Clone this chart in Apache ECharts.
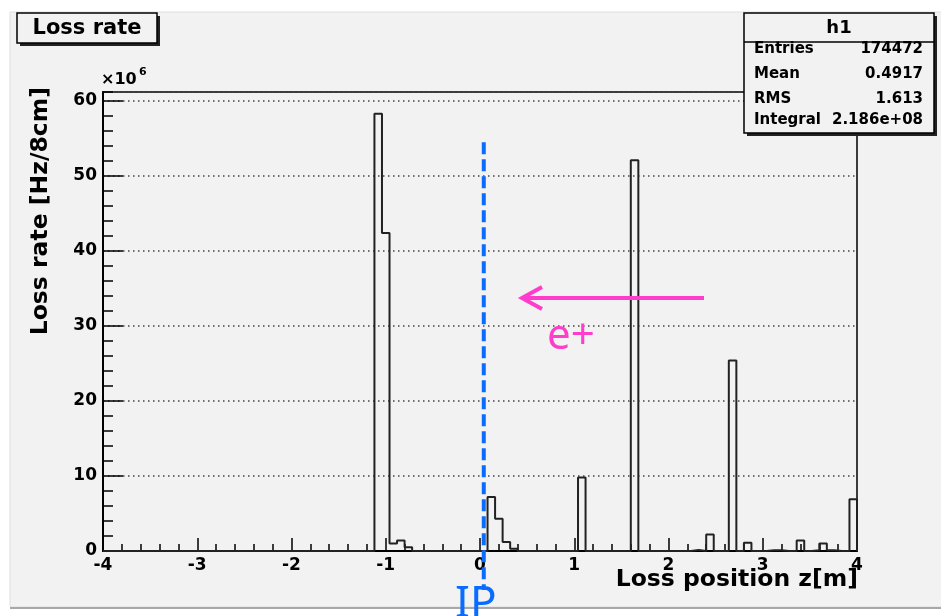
<!DOCTYPE html>
<html>
<head>
<meta charset="utf-8">
<script src="https://cdn.jsdelivr.net/npm/echarts@6/dist/echarts.min.js"></script>
<style>
	html, body { margin: 0; padding: 0; background: #fff; }
	#LossChart { width: 941px; height: 616px; }
</style>
</head>
<body>
<div id="LossChart"></div>
<script>
// histogram h1: 100 bins of 8 cm from -4 m to 4 m, values in 1e6 Hz
let binLow = -4;
let binWidth = 0.08;
let lossRate = [
	0, 0, 0, 0, 0, 0, 0, 0, 0, 0,
	0, 0, 0, 0, 0, 0, 0, 0, 0, 0,
	0, 0, 0, 0, 0, 0, 0, 0, 0, 0,
	0, 0, 0, 0, 0, 0, 58.3, 42.4, 1.0, 1.4,
	0.5, 0, 0, 0, 0, 0, 0, 0, 0, 0,
	0, 7.2, 4.3, 1.2, 0.3, 0, 0, 0, 0, 0,
	0, 0, 0, 9.8, 0, 0, 0, 0, 0, 0,
	52.1, 0, 0, 0, 0, 0, 0, 0, 0.15, 0,
	2.2, 0, 0, 25.4, 0, 1.1, 0, 0, 0.1, 0.1,
	0, 0, 1.4, 0, 0.1, 1.0, 0.1, 0, 0, 6.9,
];
let xTicks = [-4, -3, -2, -1, 0, 1, 2, 3, 4];
let yTicks = [0, 10, 20, 30, 40, 50, 60];
let yMax = 61.2;
let statNames = ["Entries", "Mean", "RMS", "Integral"];
let statValues = ["174472", "0.4917", "1.613", "2.186e+08"];

let bg = "#f2f2f2";
let rootFont = "DejaVu Sans";

let stepData = lossRate.map((v, i) => [+(binLow + i * binWidth).toFixed(2), v]);
stepData.push([xTicks[xTicks.length - 1], 0]);

let echarts = window.echarts;
let myChart = echarts.init(document.getElementById("LossChart"));

let labelStyle = {
	color: "#000",
	fontFamily: rootFont,
	fontWeight: "bold",
	fontSize: 17,
};

let option = {
	animation: false,
	backgroundColor: "#fff",
	grid: {
		left: 103,
		right: 84,
		top: 92,
		bottom: 65,
		show: true,
		backgroundColor: bg,
		borderColor: "#000",
		borderWidth: 1.5,
	},
	xAxis: {
		type: "value",
		min: xTicks[0],
		max: xTicks[xTicks.length - 1],
		interval: 1,
		axisLine: { onZero: false, lineStyle: { color: "#000", width: 2 } },
		axisTick: { inside: true, length: 13, lineStyle: { color: "#000", width: 1.5 } },
		minorTick: { show: true, splitNumber: 5, length: 7, lineStyle: { color: "#000", width: 1.5 } },
		axisLabel: Object.assign({ margin: 6 }, labelStyle),
		splitLine: { show: false },
	},
	yAxis: [
		{
			type: "value",
			min: yTicks[0],
			max: yMax,
			interval: 10,
			position: "left",
			axisLine: { show: true, onZero: false, lineStyle: { color: "#000", width: 2 } },
			axisTick: { inside: true, length: 20, lineStyle: { color: "#000", width: 1.5 } },
			axisLabel: Object.assign({ margin: 6, showMaxLabel: false }, labelStyle),
			splitLine: { show: true, lineStyle: { color: "#444", width: 1.5, type: [1.5, 3.5] } },
		},
		{
			type: "value",
			min: yTicks[0],
			max: yMax,
			interval: 2,
			position: "left",
			axisLine: { show: false, onZero: false },
			axisTick: { inside: true, length: 10, lineStyle: { color: "#000", width: 1.5 } },
			axisLabel: { show: false },
			splitLine: { show: false },
		},
	],
	series: [
		{
			name: "h1",
			type: "line",
			step: "end",
			yAxisIndex: 0,
			symbol: "none",
			silent: true,
			lineStyle: { color: "#222", width: 2 },
			data: stepData,
		},
	],
};

myChart.setOption(option);

// ROOT canvas, title box, stats box and the hand-drawn annotations
let ipX = myChart.convertToPixel({ xAxisIndex: 0 }, 0.04);
let ipTop = myChart.convertToPixel({ yAxisIndex: 0 }, 54.5);
let magenta = "#ff3ccb";
let blue = "#0a6cff";

let graphics = [
	{ type: "rect", z: -10, shape: { x: 10, y: 12, width: 940, height: 595 }, style: { fill: bg, stroke: "#dedede", lineWidth: 1 } },
	{ type: "line", z: -9, shape: { x1: 10, y1: 608, x2: 941, y2: 608 }, style: { stroke: "#a8a8a8", lineWidth: 2 } },
	// title box
	{ type: "rect", z: 50, shape: { x: 20, y: 16, width: 140, height: 30 }, style: { fill: "#222" } },
	{ type: "rect", z: 51, shape: { x: 17, y: 13, width: 140, height: 30 }, style: { fill: bg, stroke: "#000", lineWidth: 1.5 } },
	{ type: "text", z: 52, style: { text: "Loss rate", x: 87, y: 29, textAlign: "center", textVerticalAlign: "middle", font: "bold 21px " + rootFont, fill: "#000" } },
	// stats box
	{ type: "rect", z: 50, shape: { x: 747, y: 16, width: 190, height: 120 }, style: { fill: "#222" } },
	{ type: "rect", z: 51, shape: { x: 744, y: 13, width: 190, height: 120 }, style: { fill: bg, stroke: "#000", lineWidth: 1.5 } },
	{ type: "line", z: 52, shape: { x1: 744, y1: 42, x2: 934, y2: 42 }, style: { stroke: "#000", lineWidth: 1.5 } },
	{ type: "text", z: 52, style: { text: "h1", x: 839, y: 28, textAlign: "center", textVerticalAlign: "middle", font: "bold 18px " + rootFont, fill: "#000" } },
	// axis titles and exponent
	{ type: "text", z: 52, rotation: Math.PI / 2, x: 41, y: 87, style: { text: "Loss rate [Hz/8cm]", x: 0, y: 0, textAlign: "right", textVerticalAlign: "middle", font: "bold 23.5px " + rootFont, fill: "#000" } },
	{ type: "text", z: 52, style: { text: "Loss position z[m]", x: 858, y: 580, textAlign: "right", textVerticalAlign: "middle", font: "bold 23.5px " + rootFont, fill: "#000" } },
	{ type: "text", z: 52, style: { text: "×10", x: 101, y: 80, textAlign: "left", textVerticalAlign: "middle", font: "bold 16px " + rootFont, fill: "#000" } },
	{ type: "text", z: 52, style: { text: "6", x: 139, y: 72, textAlign: "left", textVerticalAlign: "middle", font: "bold 11px " + rootFont, fill: "#000" } },
	// IP line and label
	{ type: "line", z: 60, shape: { x1: ipX, y1: ipTop, x2: ipX, y2: 590 }, style: { stroke: blue, lineWidth: 4, lineDash: [12, 5] } },
	{ type: "text", z: 60, style: { text: "IP", x: 455, y: 626, textAlign: "left", textVerticalAlign: "bottom", font: "44px 'Noto Sans'", fill: blue } },
	// e+ arrow
	{ type: "line", z: 60, shape: { x1: 522, y1: 298, x2: 704, y2: 298 }, style: { stroke: magenta, lineWidth: 4 } },
	{ type: "polyline", z: 60, shape: { points: [[542, 287], [522, 298], [542, 309]] }, style: { stroke: magenta, lineWidth: 4, fill: null } },
	{ type: "text", z: 60, style: { text: "e+", x: 547, y: 358, textAlign: "left", textVerticalAlign: "bottom", font: "42px 'Noto Sans'", fill: magenta } },
];

let rowY = [49, 74, 99, 120];
statNames.forEach((name, i) => {
	graphics.push({ type: "text", z: 52, style: { text: name, x: 754, y: rowY[i], textAlign: "left", textVerticalAlign: "middle", font: "bold 15px " + rootFont, fill: "#000" } });
	graphics.push({ type: "text", z: 52, style: { text: statValues[i], x: 923, y: rowY[i], textAlign: "right", textVerticalAlign: "middle", font: "bold 15px " + rootFont, fill: "#000" } });
});

myChart.setOption({ graphic: graphics });
</script>
</body>
</html>
